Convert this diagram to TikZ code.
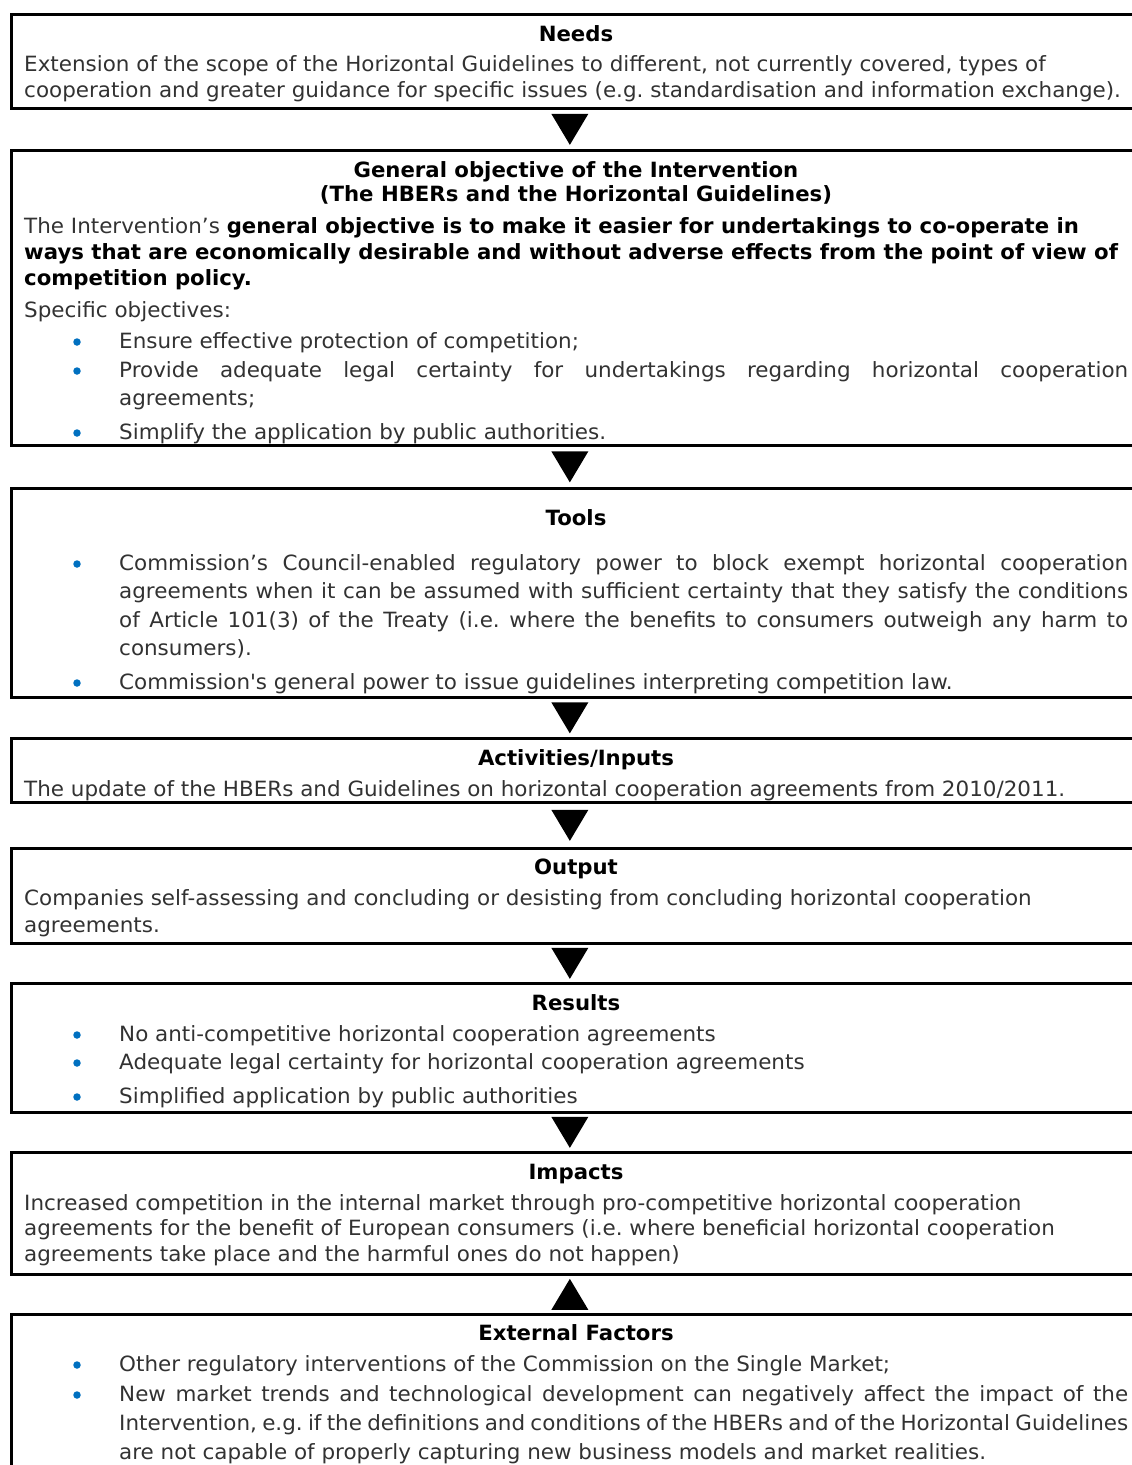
\documentclass[tikz,border=0pt]{standalone}
\usepackage{fontspec}
\setmainfont{DejaVu Sans}[FakeStretch=1.022, BoldFeatures={FakeStretch=1.011}]
\usetikzlibrary{calc}
\definecolor{txt}{RGB}{50,50,50}
\definecolor{bul}{RGB}{0,112,192}
\newcommand\jl[1]{\makebox[1009pt][s]{#1}}
\frenchspacing
\tikzset{
 box/.style={draw=black, line width=2.7pt, anchor=north west, minimum width=1140pt, inner sep=0pt},
 ln/.style={anchor=base west, inner sep=0pt, yshift=-1.5pt, text=txt, font=\fontsize{21}{26}\selectfont\frenchspacing},
 bln/.style={ln, text=black, font=\fontsize{21}{26}\selectfont\bfseries\frenchspacing},
 hd/.style={anchor=base, inner sep=0pt, yshift=-1.5pt, text=black, font=\fontsize{21}{26}\selectfont\bfseries},
 bdot/.style={circle, fill=bul, inner sep=0pt, minimum size=7.5pt},
 tri/.style={fill=black},
}
\newcommand\downarr[1]{\fill[tri] ($(#1)+(-30,-15.5)$) -- ($(#1)+(7,-15.5)$) -- ($(#1)+(-11.5,15.5)$) -- cycle;}
\newcommand\uparr[1]{\fill[tri] ($(#1)+(-30,15.5)$) -- ($(#1)+(7,15.5)$) -- ($(#1)+(-11.5,-15.5)$) -- cycle;}
\begin{document}
\begin{tikzpicture}[x=1pt,y=-1pt]
\useasboundingbox (0,0) rectangle (1132,1465);
\fill[white] (0,0) rectangle (1132,1465);
% boxes
\node[box, minimum height=94pt] (b1) at (10,13) {};
\node[box, minimum height=295pt] (b2) at (10,149) {};
\node[box, minimum height=209pt] (b3) at (10,487) {};
\node[box, minimum height=64pt] (b4) at (10,737) {};
\node[box, minimum height=95pt] (b5) at (10,847) {};
\node[box, minimum height=129pt] (b6) at (10,982) {};
\node[box, minimum height=122pt] (b7) at (10,1151) {};
\node[box, minimum height=200pt] (b8) at (10,1313) {};
% arrows
\coordinate (m1) at ($(b1.south)!0.5!(b2.north)$);
\coordinate (m2) at ($(b2.south)!0.5!(b3.north)$);
\coordinate (m3) at ($(b3.south)!0.5!(b4.north)$);
\coordinate (m4) at ($(b4.south)!0.5!(b5.north)$);
\coordinate (m5) at ($(b5.south)!0.5!(b6.north)$);
\coordinate (m6) at ($(b6.south)!0.5!(b7.north)$);
\coordinate (m7) at ($(b7.south)!0.5!(b8.north)$);
\downarr{m1}\downarr{m2}\downarr{m3}\downarr{m4}\downarr{m5}\downarr{m6}\uparr{m7}
% box 1
\node[hd] (h1) at (576,40) {Needs};
\node[ln] (t11) at (24,70) {Extension of the scope of the Horizontal Guidelines to different, not currently covered, types of};
\node[ln] (t12) at (24,96) {cooperation and greater guidance for specific issues (e.g. standardisation and information exchange).};
% box 2
\node[hd] (h2a) at (576,176) {General objective of the Intervention};
\node[hd] (h2b) at (576,200) {(The HBERs and the Horizontal Guidelines)};
\node[ln] (t21) at (24,232) {The Intervention’s \textcolor{black}{\bfseries general objective is to make it easier for undertakings to co-operate in}};
\node[bln] (t22) at (24,258) {ways that are economically desirable and without adverse effects from the point of view of};
\node[bln] (t23) at (24,284) {competition policy.};
\node[ln] (t24) at (24,316) {Specific objectives:};
\node[bdot] (d21) at (77,342) {};
\node[ln] (t25) at (119,347) {Ensure effective protection of competition;};
\node[bdot] (d22) at (77,371) {};
\node[ln] (t26) at (119,376) {\jl{Provide adequate legal certainty for undertakings regarding horizontal cooperation}};
\node[ln] (t27) at (119,404) {agreements;};
\node[bdot] (d23) at (77,433) {};
\node[ln] (t28) at (119,438) {Simplify the application by public authorities.};
% box 3
\node[hd] (h3) at (576,524) {Tools};
\node[bdot] (d31) at (77,564) {};
\node[ln] (t31) at (119,569) {\jl{Commission’s Council-enabled regulatory power to block exempt horizontal cooperation}};
\node[ln] (t32) at (119,597) {\jl{agreements when it can be assumed with sufficient certainty that they satisfy the conditions}};
\node[ln] (t33) at (119,626) {\jl{of Article 101(3) of the Treaty (i.e. where the benefits to consumers outweigh any harm to}};
\node[ln] (t34) at (119,654) {consumers).};
\node[bdot] (d32) at (77,683) {};
\node[ln] (t35) at (119,688) {Commission\textquotesingle s general power to issue guidelines interpreting competition law.};
% box 4
\node[hd] (h4) at (576,764) {Activities/Inputs};
\node[ln] (t41) at (24,795) {The update of the HBERs and Guidelines on horizontal cooperation agreements from 2010/2011.};
% box 5
\node[hd] (h5) at (576,873) {Output};
\node[ln] (t51) at (24,904) {Companies self-assessing and concluding or desisting from concluding horizontal cooperation};
\node[ln] (t52) at (24,931) {agreements.};
% box 6
\node[hd] (h6) at (576,1009) {Results};
\node[bdot] (d61) at (77,1035) {};
\node[ln] (t61) at (119,1040) {No anti-competitive horizontal cooperation agreements};
\node[bdot] (d62) at (77,1063) {};
\node[ln] (t62) at (119,1068) {Adequate legal certainty for horizontal cooperation agreements};
\node[bdot] (d63) at (77,1097) {};
\node[ln] (t63) at (119,1102) {Simplified application by public authorities};
% box 7
\node[hd] (h7) at (576,1178) {Impacts};
\node[ln] (t71) at (24,1209) {Increased competition in the internal market through pro-competitive horizontal cooperation};
\node[ln] (t72) at (24,1234) {agreements for the benefit of European consumers (i.e. where beneficial horizontal cooperation};
\node[ln] (t73) at (24,1260) {agreements take place and the harmful ones do not happen)};
% box 8
\node[hd] (h8) at (576,1339) {External Factors};
\node[bdot] (d81) at (77,1365) {};
\node[ln] (t81) at (119,1370) {Other regulatory interventions of the Commission on the Single Market;};
\node[bdot] (d82) at (77,1395) {};
\node[ln] (t82) at (119,1400) {\jl{New market trends and technological development can negatively affect the impact of the}};
\node[ln] (t83) at (119,1429) {\jl{Intervention, e.g. if the definitions and conditions of the HBERs and of the Horizontal Guidelines}};
\node[ln] (t84) at (119,1458) {are not capable of properly capturing new business models and market realities.};
\end{tikzpicture}
\end{document}
